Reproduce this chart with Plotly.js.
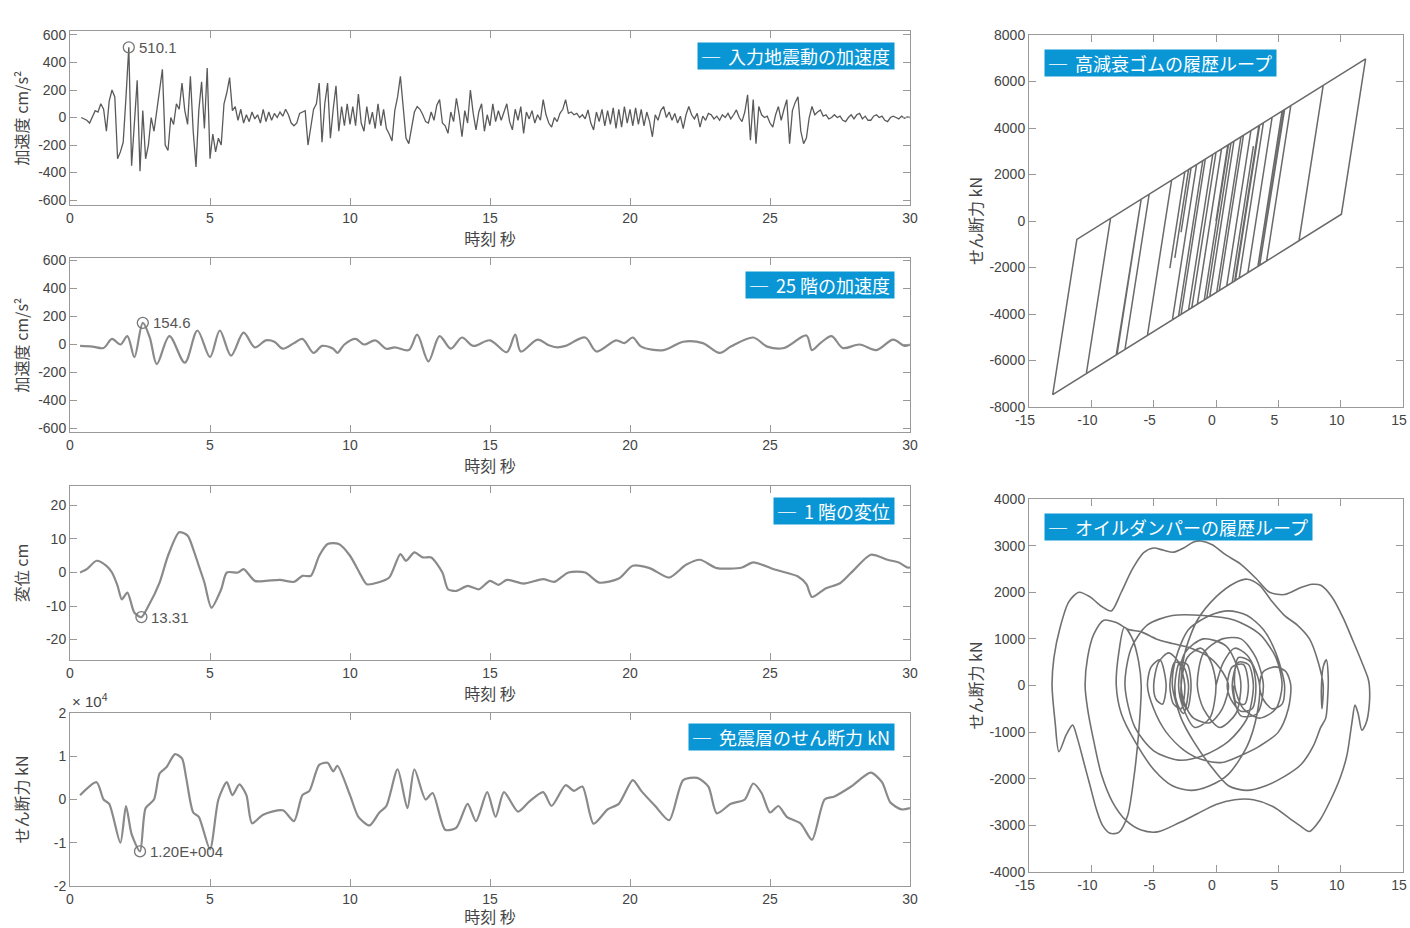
<!DOCTYPE html>
<html><head><meta charset="utf-8">
<script src="https://cdn.plot.ly/plotly-3.0.1.min.js"></script>
<style>html,body{margin:0;padding:0;background:#fff}#chart{width:1410px;height:928px}</style>
</head><body><div id="chart"></div>
<script>
// ---------- DATA ----------
// Panel 1: input ground acceleration (cm/s^2), sampled every 0.1 s starting at 0.4 s
const groundStart = 0.4, groundStep = 0.1;
const groundAcc = [
 0,-10,-20,-40,10,50,
 40,100,60,-100,120,200,150,-300,-250,-180,
 150,510.1,-350,0,270,-390,50,-300,-200,0,
 -100,50,200,350,-200,-240,0,-50,100,60,
 250,50,-50,300,-100,-360,50,260,-80,360,
 -300,-120,-250,-150,-200,100,180,290,50,80,
 -20,60,-40,20,-30,40,-10,20,-40,60,
 -30,40,-20,30,0,40,10,60,20,-40,
 -60,-40,30,40,50,-200,-80,60,100,250,
 -180,100,250,-150,60,230,-100,80,-60,100,
 -50,80,-60,170,-40,-100,80,-50,40,-80,
 100,-60,60,-80,-120,-170,50,150,300,100,
 -150,-190,-60,40,80,60,20,-30,-40,40,
 -20,90,130,-40,-60,-115,40,-30,140,20,
 -140,50,-40,200,30,-90,40,100,-100,20,
 -60,100,-30,50,-20,40,100,-30,-90,60,
 -20,80,-115,40,-10,50,-40,20,-20,130,
 20,-40,-70,0,-30,30,60,130,30,40,
 20,30,0,20,-10,55,-40,-90,40,-30,
 60,-60,50,-50,70,-80,60,-70,80,-40,
 60,-60,70,-50,60,-60,40,-30,-140,20,
 -20,50,80,0,40,-20,30,-40,10,-80,
 20,80,20,-10,30,-70,10,-20,30,20,
 -10,10,-20,20,0,30,-10,20,55,0,
 -30,40,165,-165,130,-190,80,20,0,10,
 -40,-70,20,80,-20,60,130,-190,50,110,
 150,-100,-190,-150,0,80,20,40,55,10,
 20,-10,0,20,0,10,-20,-30,0,20,
 -10,20,30,-10,10,-20,-20,10,20,0,
 10,-20,-30,0,10,0,-10,10,-5,5,
 0
];

// Panel 2: 25th floor acceleration [time s, cm/s^2]
const floor25Acc = [
 [0.36,-10],[0.8,-15],[1.2,-25],[1.5,40],[1.8,0],[2.05,60],[2.3,-90],[2.6,154.6],[2.85,50],[3.1,-140],
 [3.55,60],[4.1,-130],[4.55,100],[5.0,-90],[5.35,100],[5.75,-80],[6.2,85],[6.6,-20],[7.0,30],[7.3,20],
 [7.6,-30],[8.0,10],[8.3,40],[8.7,-60],[9.0,-10],[9.4,-30],[9.55,-60],[9.8,0],[10.2,40],[10.5,0],
 [10.9,30],[11.3,-30],[11.6,-20],[12.1,-40],[12.4,70],[12.8,-120],[13.2,60],[13.6,-30],[14.0,50],[14.4,-10],
 [15.0,30],[15.6,-55],[15.9,70],[16.1,-50],[16.7,35],[17.1,-5],[17.4,-20],[17.7,-10],[18.4,50],[18.8,-50],
 [19.5,30],[19.8,10],[20.1,50],[20.4,-15],[21.2,-40],[21.9,20],[22.6,10],[23.2,-60],[23.6,-15],[24.4,50],
 [24.9,-15],[25.5,-25],[26.3,65],[26.5,-40],[26.8,10],[27.2,60],[27.6,-25],[28.2,0],[28.8,-40],[29.4,35],
 [29.8,-10],[30.0,0]
];

// Panel 3: 1st floor displacement [time s, cm]
const floor1Disp = [
 [0.36,0],[0.6,1],[0.95,3.5],[1.3,2],[1.5,0],[1.7,-4],[1.85,-8],[2.05,-6],[2.3,-12],[2.55,-13.31],
 [2.8,-10],[3.2,-3],[3.5,5],[3.9,12],[4.2,11],[4.4,7],[4.6,2],[4.8,-3],[5.05,-10.5],[5.4,-5],
 [5.6,0],[6.0,0],[6.2,1],[6.6,-2.5],[7.0,-2.5],[7.5,-2.2],[8.0,-2.8],[8.3,-1],[8.6,-1],[8.9,5],
 [9.2,8.5],[9.6,8.5],[10.0,5],[10.4,-1],[10.6,-3.5],[11.0,-3],[11.4,-1.5],[11.8,5.5],[12.0,3.5],[12.3,6],
 [12.6,4.5],[12.9,4.5],[13.3,0],[13.5,-5],[13.8,-5.5],[14.2,-4],[14.6,-5],[15.0,-2.5],[15.3,-3.7],[15.6,-2.2],
 [16.2,-3.3],[16.9,-2],[17.3,-2.8],[17.8,0],[18.4,0],[18.9,-3],[19.6,-1.8],[20.1,2],[20.7,1.3],[21.4,-1.5],
 [22.0,2.3],[22.5,3.8],[23.1,1.3],[24.0,1.5],[24.4,3],[25.2,0.8],[26.0,-1.2],[26.3,-3.5],[26.5,-7.3],[27.0,-4.7],
 [27.5,-3.2],[28.0,0.8],[28.6,5.3],[29.2,3.8],[29.6,3],[29.9,1.5],[30.0,1.5]
];

// Panel 4: isolation layer shear force [time s, kN]
const isoShear = [
 [0.36,1000],[0.95,4000],[1.2,0],[1.4,-1000],[1.8,-10000],[2.0,-1500],[2.2,-8000],[2.5,-12000],[2.7,-2000],[3.0,0],
 [3.2,6000],[3.45,7500],[3.75,10500],[4.0,9500],[4.15,5000],[4.4,-3000],[4.6,-4000],[5.0,-11500],[5.3,0],[5.6,4000],
 [5.8,1000],[6.05,3500],[6.3,1000],[6.5,-5500],[6.9,-3500],[7.6,-2500],[8.0,-5000],[8.3,1000],[8.55,2000],[8.9,8000],
 [9.2,8500],[9.4,6500],[9.55,7800],[10.0,1000],[10.3,-4000],[10.7,-6000],[11.05,-3000],[11.3,-1500],[11.7,7000],[12.05,-2000],
 [12.3,7000],[12.7,0],[12.95,1500],[13.4,-7000],[13.8,-6500],[14.2,-1000],[14.5,-5000],[14.9,1700],[15.2,-4000],[15.5,1700],
 [16.0,-2800],[16.4,-500],[16.9,1700],[17.2,-1500],[17.7,3300],[18.0,2000],[18.3,3000],[18.7,-5600],[19.2,-2300],[19.6,-1000],
 [20.1,4500],[20.4,2000],[20.9,-1500],[21.4,-4800],[21.9,4500],[22.4,5000],[22.8,3000],[23.1,-3200],[23.6,-1000],[24.1,0],
 [24.4,3700],[24.7,1500],[25.0,-3000],[25.3,-1500],[25.6,-4000],[26.1,-5600],[26.5,-9300],[26.95,0],[27.3,700],[27.9,3000],
 [28.6,6200],[29.0,4000],[29.3,-700],[29.7,-2300],[30.0,-2000]
];

// High-damping rubber hysteresis vertices [displacement cm, force kN]
const rubberLoop = [
 [0,0],[0.95,3267],[3.5,4122],[1.56,-2556],[-8,-5760],[-6.06,919],[-6,940],[-7.94,-5739],[-13.1,-7469],[-11.16,-790],
 [12,6970],[10.06,291],[-10.4,-6564],[-8.46,115],[1,3285],[-0.94,-3394],[-2.8,-4018],[-0.86,2661],[8.6,5831],[6.66,-848],
 [-3.5,-4253],[-1.56,2426],[5.5,4793],[3.56,-1886],[3.5,-1908],[5.44,4771],[6,4960],[4.06,-1719],[-5.5,-4923],[-4,252],
 [-5,-3198],[-3.56,1756],[-2.5,2113],[-3.7,-2027],[-2.5,2112],[-2.2,2213],[-3.3,-1582],[-2.2,2213],[-2,2280],[-2.8,-480],
 [-2,2280],[0,2950],[-1.94,-3729],[-3,-4085],[-1.06,2594],[2,3620],[0.06,-3059],[-1.5,-3583],[0.44,3096],[3.8,4223],
 [1.86,-2456],[1.3,-2645],[3,3220],[1.3,-2644],[-7.3,-5526],[-5.36,1153],[5.3,4726],[3.36,-1953],[1.5,-2578],[3.44,4102],
 [4.5,4458],[2.56,-2222],[-0.5,-3248],[1.44,3432],[2.8,3888],[0.86,-2792],[-2.2,-3817],[-0.26,2863],[1.2,3352],[-0.74,-3328],
 [-1.5,-3583],[0.44,3097],[2.2,3687],[0.26,-2993]
];

// Oil damper hysteresis points [displacement cm, force kN]
const damperLoop = [
 [0,0],[0.6,500],[1.5,800],[2.5,650],[3.2,300],[3.5,0],
 [3.3,-600],[2.5,-1300],[1,-1900],[-0.5,-2150],[-2,-2250],[-3.5,-2150],[-5,-1800],[-6.5,-1200],[-7.6,-600],[-8,0],
 [-7.8,700],[-7.35,1250],[-6.7,1000],[-6.2,500],[-6,0],
 [-6.2,-1000],[-6.6,-2000],[-7.1,-2800],[-7.8,-3150],[-8.5,-3170],[-9.1,-3000],[-9.6,-2650],[-10.1,-2150],[-10.6,-1650],
 [-11.1,-1150],[-11.5,-850],[-12,-1050],[-12.6,-1420],[-12.9,-800],[-13.15,0],
 [-13,600],[-12.5,1250],[-11.8,1800],[-11,2000],[-10.1,1900],[-9.2,1700],[-8.4,1600],[-7.6,2000],[-6.7,2500],[-5.8,2850],
 [-5,2950],[-4.2,2900],[-3.4,2860],[-2.6,2950],[-1.8,3080],[-1.2,3100],[-0.3,3020],[0.8,2800],[2,2600],[3.2,2300],
 [4.3,2000],[5.5,1950],[6.8,2100],[7.7,2170],[8.4,2150],[9.3,1900],[10.2,1450],[11,950],[11.7,500],[12.2,150],[12.3,0],
 [12.3,-400],[12.05,-800],[11.7,-960],[11.4,-600],[11.15,-420],[10.9,-800],[10.5,-1500],[10,-1950],[9.2,-2450],[8.3,-2900],
 [7.5,-3130],[6.7,-3000],[5.9,-2850],[4.6,-2600],[3,-2450],[1.5,-2450],[0,-2550],[-1.5,-2750],[-3,-2950],[-4.7,-3140],
 [-6,-3100],[-7.2,-2900],[-8.3,-2500],[-9.2,-1900],[-9.8,-1200],[-10.3,-500],[-10.5,0],
 [-10.3,600],[-9.8,1100],[-9,1400],[-8,1350],[-7,1200],[-6,1150],[-4.8,1000],[-3.5,900],[-2,800],[-0.5,600],[0.5,300],[1,0],
 [0.5,-500],[-0.5,-800],[-1.8,-700],[-2.5,-400],[-2.8,0],
 [-2.5,700],[-1.5,1400],[0,1900],[1.5,2200],[2.5,2280],[3.5,2150],[4.5,1800],[5.5,1500],[6.5,1300],[7.5,1000],[8.2,500],[8.6,0],
 [8.5,-500],[8.45,-100],[8.6,400],[8.85,550],[9,200],[8.95,-300],[8.8,-700],
 [8.4,-900],[7.8,-1300],[6.8,-1700],[5.5,-1950],[4,-2150],[2.5,-2250],[1,-2150],[-0.5,-1700],[-1.8,-1200],[-2.8,-700],[-3.5,0],
 [-3.2,600],[-2.2,1200],[-0.5,1500],[1,1600],[2.5,1500],[3.8,1200],[4.8,700],[5.5,0],
 [5.3,-400],[4.5,-500],[3.8,-300],[3.5,0],[3.8,300],[4.8,400],[5.6,300],[6,0],
 [5.8,-500],[5,-1000],[3.5,-1300],[2,-1500],[0.5,-1650],[-1,-1600],[-2.5,-1400],[-4,-1000],[-5,-500],[-5.5,0],
 [-5.2,400],[-4.5,550],[-4,0],[-4.3,-400],[-4.8,-300],[-5,0],[-4.6,500],[-3.8,700],[-3,500],[-2.5,0],
 [-2.8,-500],[-3.4,-400],[-3.7,0],[-3.3,500],[-2.6,400],[-2.2,0],[-2.6,-600],[-3.1,-400],[-3.3,0],[-2.9,500],
 [-2.3,450],[-2,0],[-2.3,-500],[-2.7,-350],[-2.8,0],[-2.3,600],[-1.2,800],[-0.4,500],[0,0],[-0.5,-700],
 [-1.7,-900],[-2.6,-500],[-3,0],[-2.5,700],[-1,1000],[0.8,850],[1.7,400],[2,0],[1.6,-600],[0.3,-900],
 [-1,-500],[-1.5,0],[-1,700],[0.5,1000],[2,1000],[3.2,600],[3.8,0],[3.3,-600],[2,-650],[1.3,0],
 [1.8,500],[2.6,450],[3,0],[2.5,-700],[1,-1200],[-1,-1500],[-3,-1600],[-5,-1400],[-6.5,-900],[-7.3,0],
 [-6.8,800],[-5.5,1300],[-3.5,1500],[-1,1500],[1.5,1400],[3.5,1100],[4.8,600],[5.3,0],
 [4.8,-500],[3.5,-700],[2.2,-500],[1.5,0],[1.8,600],[2.8,500],[3.2,0],[2.9,-500],[2,-550],[1.2,-300],
 [0.9,0],[1.3,400],[2.2,450],[2.6,0],[2.3,-400],[1.6,-350],[1.4,0]
];

// Labels
const timeTicks = [0,5,10,15,20,25,30];
const accTicks = [-600,-400,-200,0,200,400,600];
const dispTicks = [-20,-10,0,10,20];
const shearTicks = [-20000,-10000,0,10000,20000];
const shearTickText = ['-2','-1','0','1','2'];
const loopXTicks = [-15,-10,-5,0,5,10,15];
const rubberYTicks = [-8000,-6000,-4000,-2000,0,2000,4000,6000,8000];
const damperYTicks = [-4000,-3000,-2000,-1000,0,1000,2000,3000,4000];
const legendNames = ['入力地震動の加速度','25 階の加速度','1 階の変位','免震層のせん断力 kN','高減衰ゴムの履歴ループ','オイルダンパーの履歴ループ'];

// ---------- BUILD ----------
const groundT = groundAcc.map((v,i)=> +(groundStart + i*groundStep).toFixed(2));
const col = (a,i)=>a.map(p=>p[i]);

const lineDark = '#5a5a5a', lineGray = '#8a8a8a';
const traces = [
 {x:groundT, y:groundAcc, xaxis:'x', yaxis:'y', mode:'lines', line:{color:lineDark, width:1.3}, name:legendNames[0]},
 {x:col(floor25Acc,0), y:col(floor25Acc,1), xaxis:'x2', yaxis:'y2', mode:'lines', line:{color:lineGray, width:2.2, shape:'spline', smoothing:0.9}, name:legendNames[1]},
 {x:col(floor1Disp,0), y:col(floor1Disp,1), xaxis:'x3', yaxis:'y3', mode:'lines', line:{color:lineGray, width:2.2, shape:'spline', smoothing:0.7}, name:legendNames[2]},
 {x:col(isoShear,0), y:col(isoShear,1), xaxis:'x4', yaxis:'y4', mode:'lines', line:{color:lineGray, width:2.2, shape:'spline', smoothing:0.7}, name:legendNames[3]},
 {x:col(rubberLoop,0), y:col(rubberLoop,1), xaxis:'x5', yaxis:'y5', mode:'lines', line:{color:'#6a6a6a', width:1.5}, name:legendNames[4]},
 {x:col(damperLoop,0), y:col(damperLoop,1), xaxis:'x6', yaxis:'y6', mode:'lines', line:{color:'#707070', width:1.6, shape:'spline', smoothing:0.8}, name:legendNames[5]}
];

function peakOf(xs, ys, useMin){
  let k=0; ys.forEach((v,i)=>{ if(useMin ? v<ys[k] : v>ys[k]) k=i; }); return [xs[k], ys[k]];
}
const pk1 = peakOf(groundT, groundAcc, false);
const pk2 = peakOf(col(floor25Acc,0), col(floor25Acc,1), false);
const pk3 = peakOf(col(floor1Disp,0), col(floor1Disp,1), true);
const pk4 = peakOf(col(isoShear,0), col(isoShear,1), true);
const peaks = [[pk1,'x','y'],[pk2,'x2','y2'],[pk3,'x3','y3'],[pk4,'x4','y4']];
peaks.forEach(([p,xa,ya])=>traces.push({x:[p[0]], y:[p[1]], xaxis:xa, yaxis:ya, mode:'markers',
  marker:{symbol:'circle-open', size:11, color:'#777', line:{width:1.3, color:'#777'}}, hoverinfo:'skip'}));

const tickFont = {family:'Liberation Sans, DejaVu Sans, sans-serif', size:14, color:'#444'};
const cjk = 'Noto Sans CJK JP, sans-serif';
function ax(extra){
  return Object.assign({showline:true, linecolor:'#999', linewidth:1, mirror:'ticks', ticks:'inside', ticklen:7,
    tickcolor:'#999', tickwidth:1, showgrid:false, zeroline:false, tickfont:tickFont, fixedrange:true}, extra);
}
const P = v=>v/1410, Q = v=>1-v/928;
const tx = {text:'時刻 秒', font:{family:cjk, size:16, color:'#444'}, standoff:0};
const ytitle = t=>({text:t, font:{family:cjk, size:16, color:'#444'}});
const lay = {
  width:1410, height:928, margin:{l:0,r:0,t:0,b:0}, paper_bgcolor:'#fff', plot_bgcolor:'#fff', showlegend:false,
  xaxis: ax({domain:[P(70),P(910)], anchor:'y', range:[0,30], tickvals:timeTicks, title:tx}),
  yaxis: ax({domain:[Q(205),Q(31)], anchor:'x', range:[-636,629], tickvals:accTicks, ticktext:accTicks.map(String), title:ytitle('加速度 cm/s²')}),
  xaxis2: ax({domain:[P(70),P(910)], anchor:'y2', range:[0,30], tickvals:timeTicks, title:tx}),
  yaxis2: ax({domain:[Q(432),Q(258)], anchor:'x2', range:[-625,618], tickvals:accTicks, ticktext:accTicks.map(String), title:ytitle('加速度 cm/s²')}),
  xaxis3: ax({domain:[P(70),P(910)], anchor:'y3', range:[0,30], tickvals:timeTicks, title:tx}),
  yaxis3: ax({domain:[Q(660),Q(486)], anchor:'x3', range:[-26.1,25.8], tickvals:dispTicks, ticktext:dispTicks.map(String), title:ytitle('変位 cm')}),
  xaxis4: ax({domain:[P(70),P(910)], anchor:'y4', range:[0,30], tickvals:timeTicks, title:tx}),
  yaxis4: ax({domain:[Q(886),Q(713)], anchor:'x4', range:[-20000,20000], tickvals:shearTicks, ticktext:shearTickText, title:ytitle('せん断力 kN')}),
  xaxis5: ax({domain:[P(1029),P(1403)], anchor:'y5', range:[-15,15], tickvals:loopXTicks, ticktext:loopXTicks.map(String),
    ticklabeloverflow:'allow', ticklabelshift:-4}),
  yaxis5: ax({domain:[Q(407),Q(35)], anchor:'x5', range:[-8000,8000], tickvals:rubberYTicks, ticktext:rubberYTicks.map(String), title:ytitle('せん断力 kN')}),
  xaxis6: ax({domain:[P(1029),P(1403)], anchor:'y6', range:[-15,15], tickvals:loopXTicks, ticktext:loopXTicks.map(String),
    ticklabeloverflow:'allow', ticklabelshift:-4}),
  yaxis6: ax({domain:[Q(872),Q(499)], anchor:'x6', range:[-4000,4000], tickvals:damperYTicks, ticktext:damperYTicks.map(String), title:ytitle('せん断力 kN')}),
  annotations: []
};
const boxFont = {family:cjk, size:18, color:'#fff'};
const boxes = [
  ['x domain','y domain',0.9821,0.937,'right',legendNames[0]],
  ['x2 domain','y2 domain',0.9821,0.925,'right',legendNames[1]],
  ['x3 domain','y3 domain',0.9821,0.937,'right',legendNames[2]],
  ['x4 domain','y4 domain',0.9821,0.942,'right',legendNames[3]],
  ['x5 domain','y5 domain',0.040,0.962,'left',legendNames[4]],
  ['x6 domain','y6 domain',0.040,0.962,'left',legendNames[5]]
];
boxes.forEach(([xr,yr,x,y,xa,t])=>lay.annotations.push({xref:xr, yref:yr, x:x, y:y, xanchor:xa, yanchor:'top',
  text:' ─  '+t+' ', showarrow:false, bgcolor:'#0a96d4', font:boxFont, borderpad:0}));
const peakTexts = [[pk1,'x','y','510.1'],[pk2,'x2','y2','154.6'],[pk3,'x3','y3',String(Math.abs(pk3[1]))],[pk4,'x4','y4','1.20E+004']];
peakTexts.forEach(([p,xa,ya,t])=>lay.annotations.push({xref:xa, yref:ya, x:p[0], y:p[1], xanchor:'left', yanchor:'middle',
  xshift:8, text:t, showarrow:false, font:{family:'Liberation Sans, sans-serif', size:15, color:'#555'}}));
lay.annotations.push({xref:'paper', yref:'paper', x:P(70), y:Q(700), xanchor:'left', yanchor:'middle',
  text:'× 10<sup>4</sup>', showarrow:false, font:{family:'Liberation Sans, sans-serif', size:15, color:'#444'}});

Plotly.newPlot('chart', traces, lay, {staticPlot:true, displayModeBar:false});
</script></body></html>
